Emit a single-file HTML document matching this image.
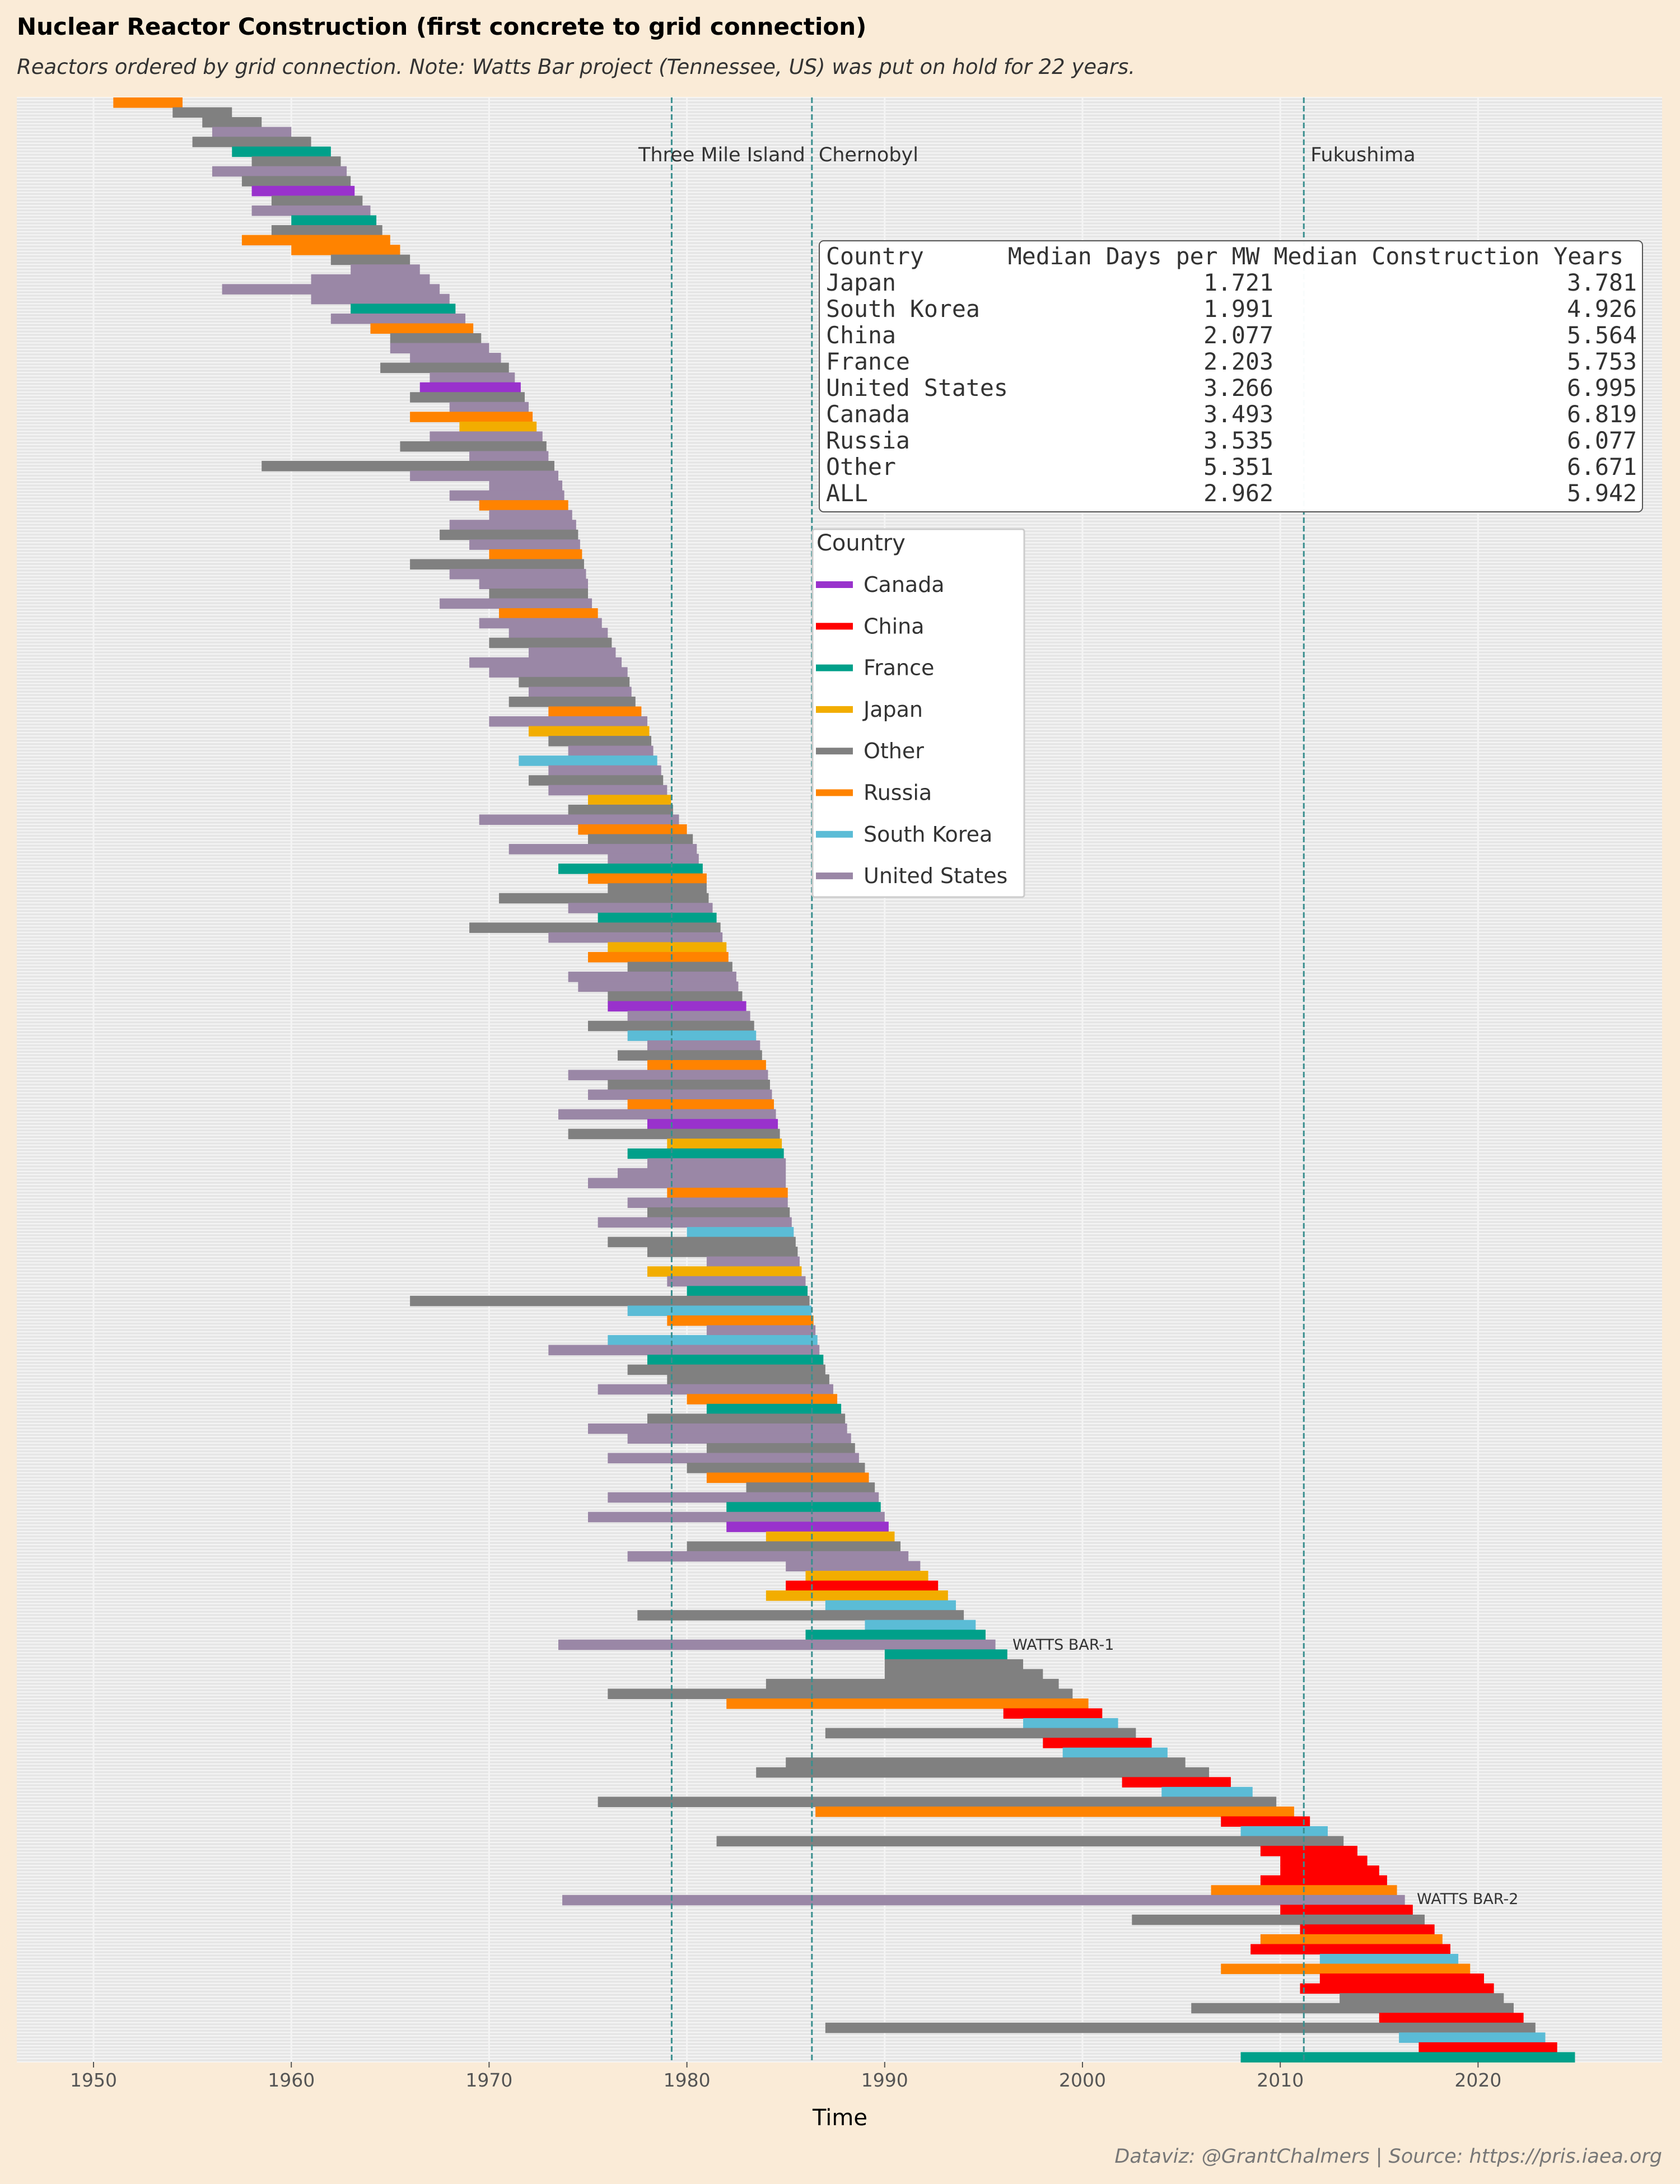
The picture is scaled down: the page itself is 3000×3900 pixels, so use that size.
<!DOCTYPE html>
<html><head><meta charset="utf-8">
<style>
html,body{margin:0;padding:0;background:#faebd7;}
svg{display:block;font-family:"DejaVu Sans","Liberation Sans",sans-serif;}
</style></head>
<body>
<svg id="chart" width="3000" height="3900" viewBox="0 0 3000 3900" xmlns="http://www.w3.org/2000/svg">
<rect x="0" y="0" width="3000" height="3900" fill="#faebd7"/>
<text x="30" y="62" font-size="42" font-weight="bold" fill="#000">Nuclear Reactor Construction (first concrete to grid connection)</text>
<text x="30" y="132" font-size="37" font-style="italic" fill="#333">Reactors ordered by grid connection. Note: Watts Bar project (Tennessee, US) was put on hold for 22 years.</text>
<rect x="30" y="174" width="2938" height="3508" fill="#e6e6e6"/>
<g id="grid"></g>
<g id="bars"></g>
<g id="events"></g>
<g id="xaxis"></g>
<text x="1500" y="3795" font-size="40" text-anchor="middle" fill="#000">Time</text>
<text x="2968" y="3862" font-size="35" font-style="italic" text-anchor="end" fill="#777">Dataviz: @GrantChalmers | Source: https://pris.iaea.org</text>

<g>
<rect x="1463" y="430" width="1470" height="484" rx="8" fill="#fff" fill-opacity="0.97" stroke="#555" stroke-width="2"/>
<g font-family="'DejaVu Sans Mono','Liberation Mono',monospace" font-size="41.5" fill="#333" id="table"></g>
</g>

<g>
<rect x="1451" y="945" width="378" height="657" rx="4" fill="#fff" fill-opacity="0.97" stroke="#ccc" stroke-width="3"/>
<text x="1458" y="983" font-size="40" fill="#333">Country</text>
<g id="legend"></g>
</g>
</svg>
<script>
// ---- data ----
const connectYear = [
1954.5,1957,1958.5,1960,1961,1962,1962.5,1962.8,1963,1963.2,
1963.6,1964,1964.3,1964.6,1965,1965.5,1966,1966.5,1967,1967.5,
1968,1968.3,1968.8,1969.2,1969.6,1970,1970.6,1971,1971.3,1971.6,
1971.8,1972,1972.2,1972.4,1972.7,1972.9,1973,1973.3,1973.5,1973.7,
1973.8,1974,1974.2,1974.4,1974.5,1974.6,1974.7,1974.8,1974.9,1975,
1975,1975.2,1975.5,1975.7,1976,1976.2,1976.4,1976.7,1977,1977.1,
1977.2,1977.4,1977.7,1978,1978.1,1978.2,1978.3,1978.5,1978.7,1978.8,
1979,1979.2,1979.3,1979.6,1980,1980.3,1980.5,1980.6,1980.8,1981,
1981,1981.1,1981.3,1981.5,1981.7,1981.8,1982,1982.1,1982.3,1982.5,
1982.6,1982.8,1983,1983.2,1983.4,1983.5,1983.7,1983.8,1984,1984.1,
1984.2,1984.3,1984.4,1984.5,1984.6,1984.7,1984.8,1984.9,1985,1985,
1985,1985.1,1985.1,1985.2,1985.3,1985.4,1985.5,1985.6,1985.7,1985.8,
1986,1986.1,1986.2,1986.3,1986.4,1986.5,1986.6,1986.7,1986.9,1987,
1987.2,1987.4,1987.6,1987.8,1988,1988.1,1988.3,1988.5,1988.7,1989,
1989.2,1989.5,1989.7,1989.8,1990,1990.2,1990.5,1990.8,1991.2,1991.8,
1992.2,1992.7,1993.2,1993.6,1994,1994.6,1995.1,1995.6,1996.2,1997,
1998,1998.8,1999.5,2000.3,2001,2001.8,2002.7,2003.5,2004.3,2005.2,
2006.4,2007.5,2008.6,2009.8,2010.7,2011.5,2012.4,2013.2,2013.9,2014.4,
2015,2015.4,2015.9,2016.3,2016.7,2017.3,2017.8,2018.2,2018.6,2019,
2019.6,2020.3,2020.8,2021.3,2021.8,2022.3,2022.9,2023.4,2024,2024.9];
const concreteYear = [
1951,1954,1955.5,1956,1955,1957,1958,1956,1957.5,1958,
1959,1958,1960,1959,1957.5,1960,1962,1963,1961,1956.5,
1961,1963,1962,1964,1965,1965,1966,1964.5,1967,1966.5,
1966,1968,1966,1968.5,1967,1965.5,1969,1958.5,1966,1970,
1968,1969.5,1970,1968,1967.5,1969,1970,1966,1968,1969.5,
1970,1967.5,1970.5,1969.5,1971,1970,1972,1969,1970,1971.5,
1972,1971,1973,1970,1972,1973,1974,1971.5,1973,1972,
1973,1975,1974,1969.5,1974.5,1975,1971,1976,1973.5,1975,
1976,1970.5,1974,1975.5,1969,1973,1976,1975,1977,1974,
1974.5,1976,1976,1977,1975,1977,1978,1976.5,1978,1974,
1976,1975,1977,1973.5,1978,1974,1979,1977,1978,1976.5,
1975,1979,1977,1978,1975.5,1980,1976,1978,1981,1978,
1979,1980,1966,1977,1979,1981,1976,1973,1978,1977,
1979,1975.5,1980,1981,1978,1975,1977,1981,1976,1980,
1981,1983,1976,1982,1975,1982,1984,1980,1977,1985,
1986,1985,1984,1987,1977.5,1989,1986,1973.5,1990,1990,
1990,1984,1976,1982,1996,1997,1987,1998,1999,1985,
1983.5,2002,2004,1975.5,1986.5,2007,2008,1981.5,2009,2010,
2010,2009,2006.5,1973.7,2010,2002.5,2011,2009,2008.5,2012,
2007,2012,2011,2013,2005.5,2015,1987,2016,2017,2008];
const countryCode = (
"ROOUOFOUOC"+"OUFORROUUU"+"UFUROUUOUC"+"OURJUOUOUU"+"URUUOUROUU"+
"OURUUOUUUO"+"UORUJOUKUO"+"UJOUROUUFR"+"OOUFOUJROU"+"UOCUOKUORU"+
"OURUCOJFUU"+"URUOUKOOUJ"+"UFOKRUKUFO"+"OURFOUUOUO"+
"ROUFUCJOUU"+"JHJKOKFUFO"+"OOORHKOHKO"+"OHKORHKOHH"+"HHRUHOHRHK"+"RHHOOHOKHF").split("");
const legendCountries = ["Canada","China","France","Japan","Other","Russia","South Korea","United States"];
const legendCodes = ["C","H","F","J","O","R","K","U"];
const tickYears = [1950,1960,1970,1980,1990,2000,2010,2020];
const eventNames = ["Three Mile Island","Chernobyl","Fukushima"];
const eventYears = [1979.23,1986.32,2011.19];
const tableHeader = "Country      Median Days per MW Median Construction Years";
const tableCountries = ["Japan","South Korea","China","France","United States","Canada","Russia","Other","ALL"];
const tableDaysPerMW = ["1.721","1.991","2.077","2.203","3.266","3.493","3.535","5.351","2.962"];
const tableYears = ["3.781","4.926","5.564","5.753","6.995","6.819","6.077","6.671","5.942"];

// ---- scales ----
const colors = {C:"#9932cc",H:"#ff0000",F:"#00a08a",J:"#f2ad00",O:"#808080",R:"#ff8300",K:"#5bbcd6",U:"#9a87a6"};
const plotTop = 174, plotBottom = 3682, plotLeft = 30, plotRight = 2968;
const x = yr => 167 + (yr - 1950) * 35.32;
const N = connectYear.length;
const rowH = (plotBottom - plotTop) / N;
const y = i => plotTop + i * rowH;
const NS = "http://www.w3.org/2000/svg";
function mk(tag, attrs, parent){const e=document.createElementNS(NS,tag);for(const k in attrs)e.setAttribute(k,attrs[k]);parent.appendChild(e);return e;}

// grid
const grid = document.getElementById("grid");
for (let k = 0; k <= N * 3; k++) {
  const ln = mk("line",{x1:plotLeft,x2:plotRight,y1:plotTop+k*rowH/3,y2:plotTop+k*rowH/3,stroke:"#fafafa","stroke-width":1.5},grid);
  
  
}
tickYears.forEach(t=>{
  const ln = mk("line",{x1:x(t),x2:x(t),y1:plotTop,y2:plotBottom,stroke:"#f4f4f4","stroke-width":3},grid);
  
  
});

// bars
const bars = document.getElementById("bars");
for (let i = 0; i < N; i++) {
  const s = concreteYear[i], e = connectYear[i];
  const r = mk("rect",{x:x(s),y:y(i),width:Math.max(2,x(e)-x(s)),height:rowH+1,fill:colors[countryCode[i]]||"#808080"},bars);
  
  
}

// annotations
const wb1 = mk("text",{x:1808,y:2946,"font-size":27,fill:"#333"},bars); wb1.textContent="WATTS BAR-1";


const wb2 = mk("text",{x:2530,y:3400,"font-size":27,fill:"#333"},bars); wb2.textContent="WATTS BAR-2";



// events
const ev = document.getElementById("events");
eventYears.forEach((yr,k)=>{
  const ln = mk("line",{x1:x(yr),x2:x(yr),y1:plotTop,y2:plotBottom,stroke:"#3a8f8f","stroke-width":3,"stroke-dasharray":"10,5"},ev);
  
  
  const lx = k===0 ? x(eventYears[1])-12 : x(yr)+12;
  const t = mk("text",{x:lx,y:288,"font-size":35,fill:"#333","text-anchor":k===0?"end":"start"},ev);
  t.textContent = eventNames[k];
  
  
});

// x axis
const xa = document.getElementById("xaxis");
tickYears.forEach(t=>{
  const tk = mk("line",{x1:x(t),x2:x(t),y1:plotBottom,y2:plotBottom+10,stroke:"#555","stroke-width":2},xa);
  
  
  const lb = mk("text",{x:x(t),y:3726,"font-size":33,fill:"#555","text-anchor":"middle"},xa);
  lb.textContent = t;
  
  
});

// table
const tb = document.getElementById("table");
const rowY = k => 472 + k * 47;
const hd = mk("text",{x:1475,y:rowY(0),"xml:space":"preserve"},tb);
hd.setAttributeNS("http://www.w3.org/XML/1998/namespace","xml:space","preserve");
hd.style.whiteSpace = "pre";
hd.textContent = tableHeader;


tableCountries.forEach((c,k)=>{
  const a = mk("text",{x:1475,y:rowY(k+1)},tb); a.textContent=c;
  
  
  const b = mk("text",{x:2274,y:rowY(k+1),"text-anchor":"end"},tb); b.textContent=tableDaysPerMW[k];
  
  
  const d = mk("text",{x:2923,y:rowY(k+1),"text-anchor":"end"},tb); d.textContent=tableYears[k];
  
  
});

// legend
const lg = document.getElementById("legend");
legendCountries.forEach((c,k)=>{
  const yy = 1044 + k * 74.3;
  const sw = mk("rect",{x:1457,y:yy-6,width:66,height:12,fill:colors[legendCodes[k]]},lg);
  
  
  const t = mk("text",{x:1542,y:yy+13,"font-size":38,fill:"#333"},lg); t.textContent=c;
  
  
});
</script>
</body></html>
